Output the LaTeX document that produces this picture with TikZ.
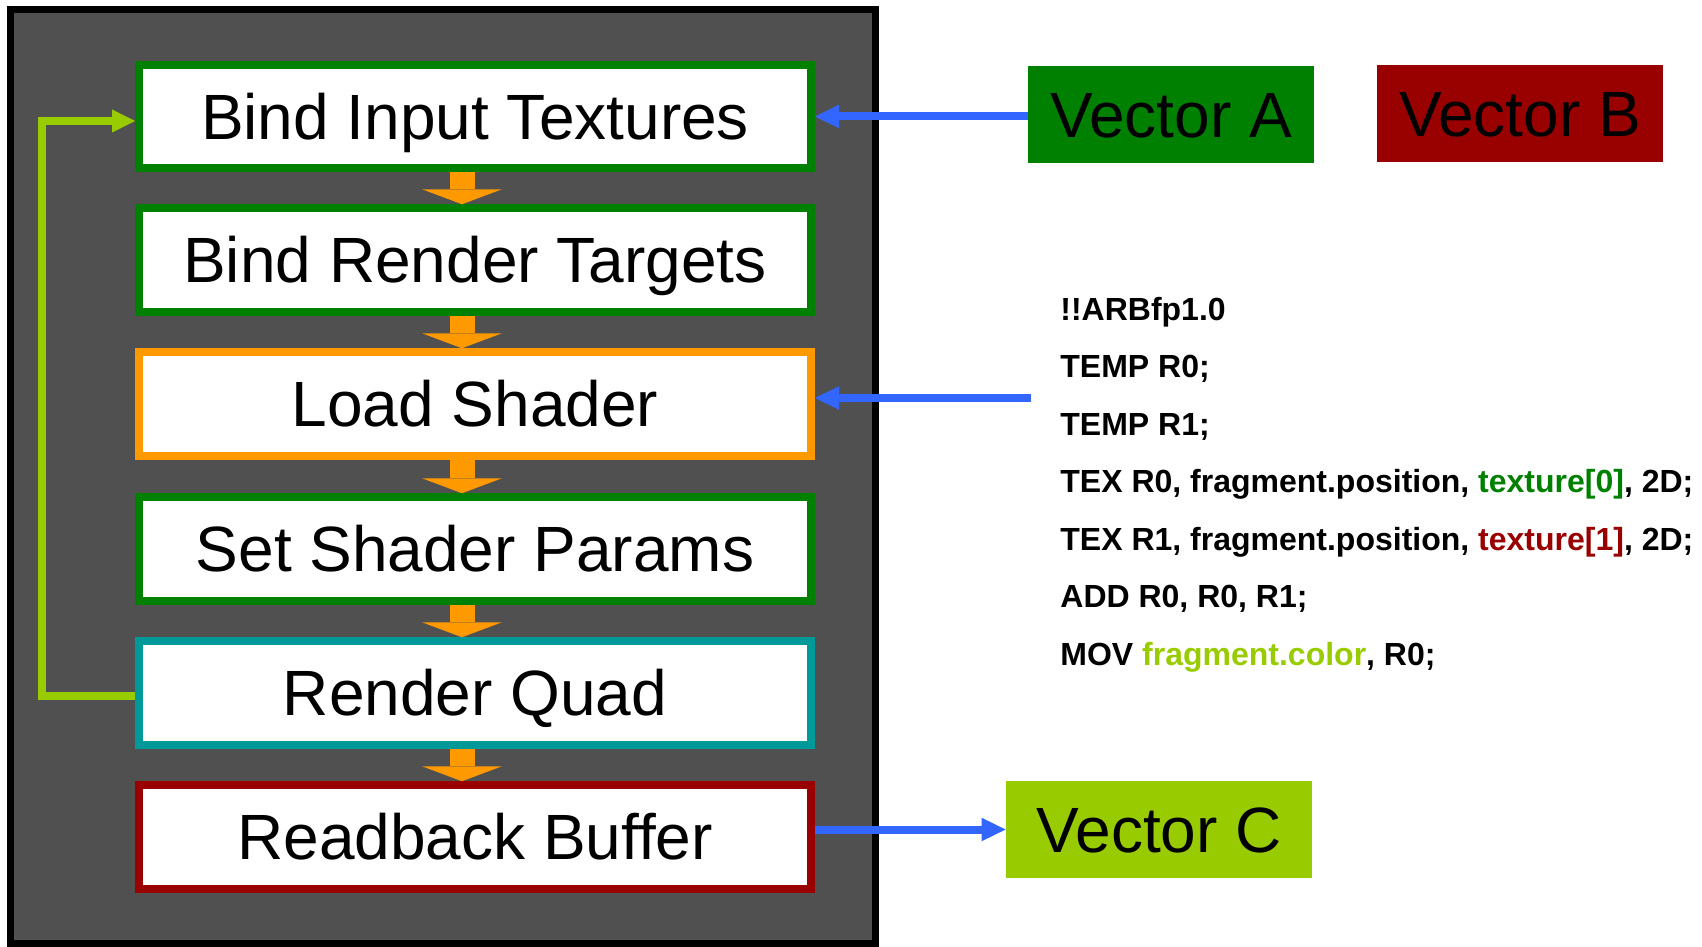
\documentclass[tikz,border=0pt]{standalone}
\usepackage{fontspec}
\setmainfont{Liberation Sans}
\usetikzlibrary{arrows.meta}
\definecolor{panelgray}{HTML}{505050}
\definecolor{okgreen}{HTML}{008000}
\definecolor{deepred}{HTML}{990000}
\definecolor{limegreen}{HTML}{99CC00}
\definecolor{amber}{HTML}{FF9900}
\definecolor{quadteal}{HTML}{009999}
\definecolor{signalblue}{HTML}{3366FF}
\begin{document}
\begin{tikzpicture}[x=0.5pt,y=-0.5pt,
  stage/.style={draw=#1, fill=white, line width=4pt, minimum width=336pt,
    minimum height=51.75pt, inner sep=0pt, text height=22.9pt, text depth=0pt,
    font=\fontsize{32}{38}\selectfont},
  vecbox/.style={fill=#1, minimum height=48.5pt, inner sep=0pt,
    text height=22.9pt, text depth=0pt, font=\fontsize{32}{38}\selectfont},
  code/.style={anchor=base west, inner sep=0pt, font=\fontsize{16}{19}\selectfont\bfseries},
  flow/.style={draw=amber, line width=12.5pt,
    -{Triangle[width=40pt,length=7.5pt,line width=0pt]}},
  feed/.style={draw=signalblue, line width=4pt,
    -{Triangle[width=11.75pt,length=12pt,line width=0pt]}},
  loopback/.style={draw=limegreen, line width=3.75pt, line join=miter,
    -{Triangle[width=11.5pt,length=11.5pt,line width=0pt]}}]
\useasboundingbox (0,0) rectangle (1702,947);

% pipeline panel
\draw[line width=3.5pt, fill=panelgray] (10.5,9.5) rectangle (875.5,943.5);

% pipeline stages
\node[stage=okgreen]  (b1) at (475,116.5) {Bind Input Textures};
\node[stage=okgreen]  (b2) at (475,260)   {Bind Render Targets};
\node[stage=amber]    (b3) at (475,404)   {Load Shader};
\node[stage=okgreen]  (b4) at (475,549)   {Set Shader Params};
\node[stage=quadteal] (b5) at (475,693)   {Render Quad};
\node[stage=deepred]  (b6) at (475,837)   {Readback Buffer};

% stage-to-stage flow
\foreach \a/\b in {b1/b2,b2/b3,b3/b4,b4/b5,b5/b6}
  \draw[flow] ([xshift=-6.5pt]\a.south) -- ([xshift=-6.5pt]\b.north);

% iteration loop
\coordinate (lt) at (42,121);
\coordinate (lb) at (42,696);
\draw[loopback] (lb -| b5.west) -- (lb) -- (lt) -- (lt -| b1.west);

% data vectors
\node[vecbox=okgreen, minimum width=143pt]    (va) at (1171,114.5) {Vector A};
\node[vecbox=deepred, minimum width=142.75pt] (vb) at (1520,113.5) {Vector B};
\node[vecbox=limegreen, minimum width=153pt]  (vc) at (1159,829.5) {Vector C};

% fragment program
\node[code] (c1) at (1060,320)   {!!ARBfp1.0};
\node[code] (c2) at (1060,377.5) {TEMP R0;};
\node[code] (c3) at (1060,435)   {TEMP R1;};
\node[code] (c4) at (1060,492.5) {TEX R0, fragment.position, \textcolor{okgreen}{texture[0]}, 2D;};
\node[code] (c5) at (1060,550)   {TEX R1, fragment.position, \textcolor{deepred}{texture[1]}, 2D;};
\node[code] (c6) at (1060,607.5) {ADD R0, R0, R1;};
\node[code] (c7) at (1060,665)   {MOV \textcolor{limegreen}{fragment.color}, R0;};

% inputs and output
\coordinate (src) at (1031,398);
\draw[feed] (va.west |- b1.east) -- (b1.east);
\draw[feed] (src) -- (src -| b3.east);
\draw[feed] (b6.east |- vc.west) -- (vc.west);
\end{tikzpicture}
\end{document}
